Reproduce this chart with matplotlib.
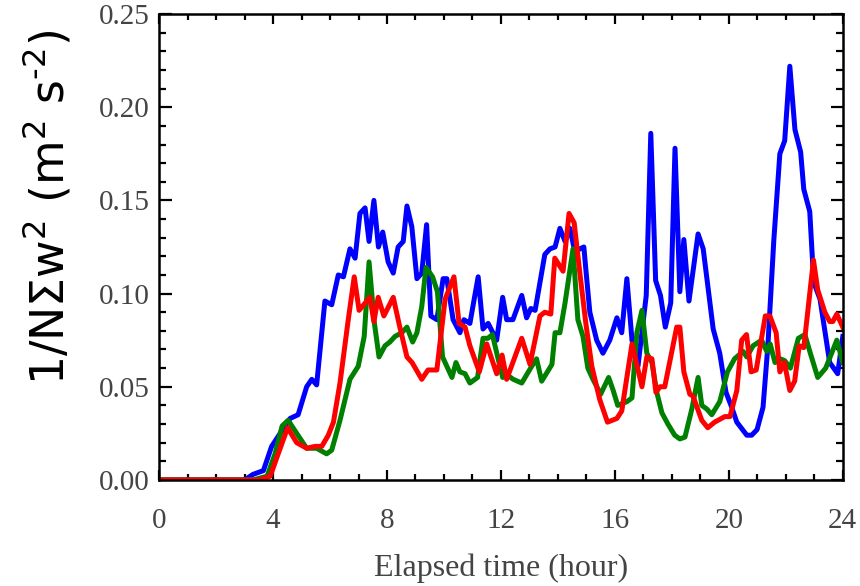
import numpy as np
import matplotlib.pyplot as plt
from matplotlib.ticker import MultipleLocator, FormatStrFormatter

# values (time in hours, w^2 in m2 s-2)
t_blue = [0, 3.0, 3.3, 3.66, 3.95, 4.25, 4.6, 4.88, 5.18, 5.36, 5.53, 5.82, 6.06, 6.29, 6.47,
          6.70, 6.88, 7.05, 7.23, 7.37, 7.54, 7.7, 7.85, 8.04, 8.22, 8.39, 8.57, 8.70, 8.87,
          9.05, 9.22, 9.39, 9.54, 9.75, 9.97, 10.1, 10.32, 10.56, 10.7, 10.91, 11.2, 11.37,
          11.55, 11.85, 12.06, 12.2, 12.42, 12.73, 12.9, 13.05, 13.2, 13.54, 13.72, 13.9,
          14.07, 14.25, 14.42, 14.6, 14.77, 14.91, 14.98, 15.12, 15.36, 15.58, 15.82, 16.07,
          16.24, 16.42, 16.6, 16.81, 17.1, 17.26, 17.43, 17.6, 17.77, 17.96, 18.11, 18.28,
          18.42, 18.6, 18.92, 19.1, 19.45, 19.68, 19.9, 20.1, 20.28, 20.63, 20.8, 20.99,
          21.2, 21.37, 21.58, 21.79, 21.96, 22.14, 22.32, 22.52, 22.63, 22.84, 22.98, 23.2,
          23.54, 23.82, 24.0]
w_blue = [0, 0, 0.003, 0.005, 0.018, 0.025, 0.033, 0.035, 0.050, 0.054, 0.051, 0.096, 0.094,
          0.110, 0.109, 0.124, 0.119, 0.143, 0.146, 0.128, 0.150, 0.125, 0.133, 0.117, 0.111,
          0.125, 0.128, 0.147, 0.136, 0.108, 0.111, 0.137, 0.088, 0.086, 0.108, 0.108, 0.086,
          0.079, 0.086, 0.084, 0.109, 0.081, 0.084, 0.075, 0.098, 0.086, 0.086, 0.099, 0.087,
          0.092, 0.091, 0.121, 0.124, 0.125, 0.135, 0.128, 0.135, 0.122, 0.124, 0.125, 0.113,
          0.090, 0.075, 0.068, 0.075, 0.087, 0.079, 0.108, 0.075, 0.061, 0.099, 0.186, 0.107,
          0.099, 0.082, 0.095, 0.178, 0.101, 0.129, 0.096, 0.132, 0.124, 0.081, 0.068, 0.047,
          0.039, 0.031, 0.024, 0.024, 0.027, 0.039, 0.072, 0.129, 0.175, 0.182, 0.222, 0.188,
          0.176, 0.156, 0.144, 0.106, 0.097, 0.063, 0.057, 0.077]

t_green = [0, 3.3, 3.79, 4.07, 4.32, 4.53, 4.83, 5.18, 5.53, 5.88, 6.06, 6.35, 6.7, 6.99, 7.2,
           7.37, 7.55, 7.72, 7.93, 8.1, 8.28, 8.52, 8.7, 8.9, 9.05, 9.22, 9.37, 9.6, 9.77,
           9.95, 10.1, 10.28, 10.42, 10.56, 10.74, 10.91, 11.18, 11.37, 11.54, 11.7, 11.9,
           12.06, 12.25, 12.43, 12.73, 13.08, 13.25, 13.43, 13.79, 13.9, 14.07, 14.25, 14.53,
           14.7, 14.88, 15.05, 15.23, 15.5, 15.78, 15.94, 16.1, 16.42, 16.6, 16.77, 16.95,
           17.12, 17.3, 17.47, 17.65, 17.86, 18.1, 18.28, 18.46, 18.7, 18.92, 19.05, 19.23,
           19.4, 19.68, 19.95, 20.2, 20.5, 20.63, 20.85, 21.15, 21.33, 21.45, 21.62, 21.8,
           21.96, 22.16, 22.44, 22.67, 22.86, 23.12, 23.4, 23.79, 24.0]
w_green = [0, 0, 0.002, 0.014, 0.029, 0.032, 0.025, 0.017, 0.017, 0.014, 0.016, 0.032, 0.054,
           0.061, 0.077, 0.117, 0.085, 0.066, 0.072, 0.074, 0.077, 0.079, 0.082, 0.074, 0.079,
           0.093, 0.114, 0.109, 0.101, 0.066, 0.061, 0.055, 0.063, 0.058, 0.057, 0.052, 0.055,
           0.076, 0.076, 0.078, 0.065, 0.055, 0.056, 0.054, 0.052, 0.061, 0.065, 0.053, 0.062,
           0.079, 0.079, 0.095, 0.124, 0.086, 0.077, 0.060, 0.054, 0.046, 0.055, 0.048, 0.040,
           0.042, 0.044, 0.079, 0.091, 0.068, 0.063, 0.047, 0.036, 0.030, 0.024, 0.022, 0.023,
           0.038, 0.055, 0.040, 0.038, 0.035, 0.042, 0.058, 0.065, 0.069, 0.066, 0.072, 0.075,
           0.069, 0.073, 0.063, 0.065, 0.064, 0.060, 0.076, 0.078, 0.068, 0.055, 0.060, 0.075,
           0.063]

t_red = [0, 3.5, 3.9, 4.18, 4.51, 4.83, 5.18, 5.47, 5.71, 5.94, 6.12, 6.35, 6.64, 6.85, 7.02,
         7.4, 7.54, 7.69, 7.89, 8.22, 8.42, 8.7, 8.88, 9.22, 9.44, 9.75, 10.04, 10.35, 10.53,
         10.74, 10.91, 11.24, 11.5, 11.85, 12.04, 12.2, 12.73, 13.02, 13.37, 13.54, 13.75,
         13.89, 14.18, 14.39, 14.57, 14.77, 14.98, 15.19, 15.47, 15.74, 16.07, 16.24, 16.6,
         16.95, 17.12, 17.3, 17.44, 17.58, 17.75, 18.17, 18.28, 18.42, 18.63, 18.74, 19.05,
         19.26, 19.5, 19.86, 20.04, 20.28, 20.45, 20.62, 20.78, 20.96, 21.28, 21.44, 21.66,
         21.79, 21.95, 22.14, 22.31, 22.47, 22.63, 22.97, 23.12, 23.37, 23.54, 23.65, 23.79,
         24.0]
w_red = [0, 0, 0.002, 0.014, 0.028, 0.020, 0.017, 0.018, 0.018, 0.024, 0.031, 0.052, 0.086,
         0.109, 0.091, 0.098, 0.085, 0.098, 0.088, 0.098, 0.084, 0.066, 0.063, 0.054, 0.059,
         0.059, 0.097, 0.109, 0.084, 0.082, 0.072, 0.058, 0.073, 0.057, 0.067, 0.054, 0.076,
         0.062, 0.088, 0.090, 0.089, 0.119, 0.112, 0.143, 0.138, 0.111, 0.084, 0.061, 0.043,
         0.031, 0.033, 0.037, 0.073, 0.050, 0.066, 0.065, 0.047, 0.050, 0.050, 0.082, 0.082,
         0.058, 0.046, 0.045, 0.032, 0.028, 0.031, 0.034, 0.034, 0.048, 0.075, 0.078, 0.058,
         0.059, 0.088, 0.088, 0.079, 0.058, 0.063, 0.048, 0.053, 0.072, 0.071, 0.118, 0.102,
         0.090, 0.085, 0.085, 0.089, 0.082]

fig = plt.figure(figsize=(8.6, 5.86), dpi=100)
ax = fig.add_axes([0.185, 0.181, 0.795, 0.795])

ax.plot(t_blue, w_blue, color='#0000ff', lw=3.6)
ax.plot(t_green, w_green, color='#008000', lw=3.6)
ax.plot(t_red, w_red, color='#ff0000', lw=3.6)

ax.set_xlim(0, 24)
ax.set_ylim(0, 0.25)
ax.xaxis.set_major_locator(MultipleLocator(4))
ax.xaxis.set_minor_locator(MultipleLocator(1))
ax.yaxis.set_major_locator(MultipleLocator(0.05))
ax.yaxis.set_minor_locator(MultipleLocator(0.01))
ax.yaxis.set_major_formatter(FormatStrFormatter('%.2f'))

for s in ax.spines.values():
    s.set_linewidth(1.8)
ax.tick_params(which='both', direction='in', top=True, right=True, width=1.6,
               labelsize=21, labelcolor='#444444', labelfontfamily='Liberation Serif')
ax.tick_params(axis='y', which='major', length=9, pad=7)
ax.tick_params(axis='y', which='minor', length=5)
ax.tick_params(axis='x', which='major', length=7, pad=20)
ax.tick_params(axis='x', which='minor', length=4)

ax.set_xlabel('Elapsed time (hour)', fontsize=23, family='Liberation Serif',
              color='#444444', labelpad=14)
ax.set_ylabel(r'1/N$\mathregular{\Sigma}$w$^{2}$ (m$^{2}$ s$^{\text{-}2}$)', fontsize=33,
              family='DejaVu Sans')
ax.yaxis.set_label_coords(-0.125, 0.585)

fig.savefig('out.png', dpi=100)
